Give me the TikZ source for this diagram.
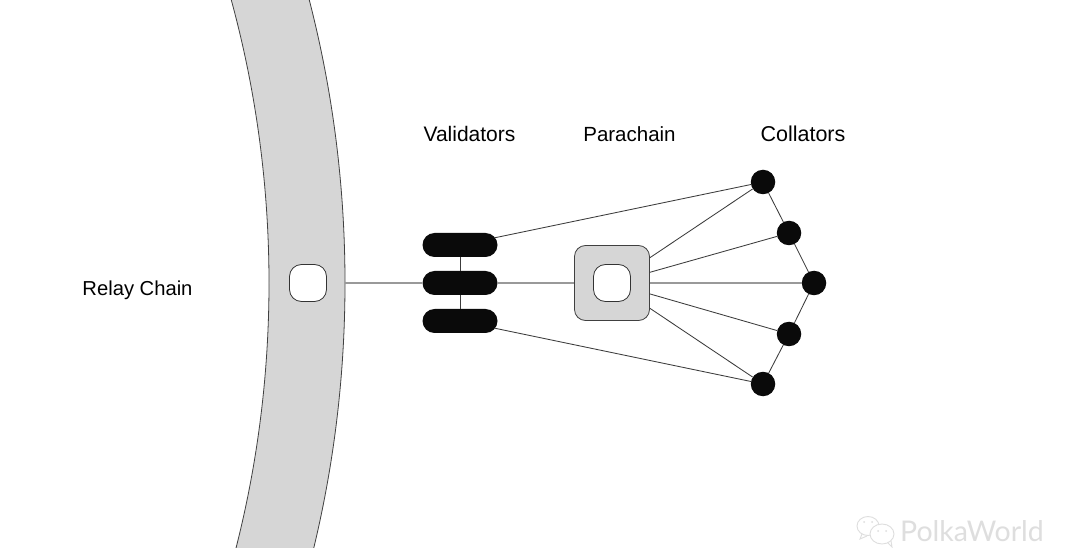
\documentclass[tikz,border=0pt]{standalone}
\usepackage{fontspec}
\setmainfont{Liberation Sans}
\newfontfamily\markfont{Lato}
\definecolor{ringgray}{HTML}{D6D6D6}
\definecolor{inkblack}{HTML}{0A0A0A}
\definecolor{edgegray}{HTML}{3C3C3C}
\definecolor{markgray}{HTML}{DEDEDE}
\tikzset{
  x=1pt,y=-1pt,
  label text/.style={text=black,inner sep=0pt,anchor=base},
  pill/.style={draw=none,fill=inkblack,rectangle,rounded corners=12pt,minimum width=75pt,minimum height=24pt,inner sep=0pt},
  collator/.style={circle,fill=inkblack,draw=none,minimum size=24.5pt,inner sep=0pt},
  hole/.style={rectangle,fill=white,draw=black!80,line width=0.8pt,rounded corners=12pt,minimum size=37pt,inner sep=0pt},
  parabox/.style={rectangle,fill=ringgray,draw=black!75,line width=0.8pt,rounded corners=11pt,minimum size=75pt,inner sep=0pt},
  thin link/.style={draw=edgegray,line width=0.85pt},
  main link/.style={draw=black!40,line width=1.5pt},
  chain edge/.style={draw=black!75,line width=0.8pt},
}
\begin{document}
\begin{tikzpicture}
\useasboundingbox (0,0) rectangle (1080,548);
\begin{scope}
  \clip (0,0) rectangle (1080,548);
  \fill[white] (0,0) rectangle (1080,548);
  \filldraw[fill=ringgray,chain edge] (-785,283) circle[radius=1130];
  \filldraw[fill=white,chain edge] (-804,283) circle[radius=1073];
\end{scope}
\coordinate (ringedge) at (345,283);
\node[hole] (relayslot) at (308,283) {};
\node[pill] (v1) at (460,245) {};
\node[pill] (v2) at (460,283) {};
\node[pill] (v3) at (460,321) {};
\node[parabox] (para) at (612,283) {};
\node[hole] (paraslot) at (612,283) {};
\node[collator] (c1) at (763,182) {};
\node[collator] (c2) at (789,233) {};
\node[collator] (c3) at (814,283) {};
\node[collator] (c4) at (789,334) {};
\node[collator] (c5) at (763,384) {};
\draw[main link] (ringedge) -- (v2);
\draw[main link] (v2) -- (para);
\draw[main link] (para) -- (c3);
\draw[thin link] (v1) -- (v2);
\draw[thin link] (v2) -- (v3);
\draw[thin link,shorten <=-3pt] (v1) -- (c1);
\draw[thin link,shorten <=-3pt] (v3) -- (c5);
\draw[thin link] (para) -- (c1);
\draw[thin link] (para) -- (c2);
\draw[thin link] (para) -- (c4);
\draw[thin link] (para) -- (c5);
\draw[thin link] (c1) -- (c2);
\draw[thin link] (c2) -- (c3);
\draw[thin link] (c3) -- (c4);
\draw[thin link] (c4) -- (c5);
\node[label text,font=\fontsize{21}{24}\selectfont] (lv) at (469.5,141.5) {Validators};
\node[label text,font=\fontsize{20.5}{24}\selectfont] (lp) at (629.5,141.5) {Parachain};
\node[label text,font=\fontsize{21.5}{24}\selectfont] (lc) at (803,141.5) {Collators};
\node[label text,font=\fontsize{20.2}{24}\selectfont] (lr) at (137.5,295.5) {Relay Chain};
% watermark
\draw[markgray,line width=0.9pt,fill=white] (868,526) ellipse[x radius=11,y radius=9.5];
\draw[markgray,line width=0.9pt] (862,534) -- (860,539) -- (867,536);
\draw[markgray,line width=0.9pt,fill=white] (882,534) ellipse[x radius=12,y radius=10];
\draw[markgray,line width=0.9pt] (888,543) -- (892,547) -- (891,541);
\fill[markgray] (864,522) circle[radius=1] (872,522) circle[radius=1] (878,531) circle[radius=1] (886,531) circle[radius=1];
\node[font=\markfont\fontsize{28.5}{30}\selectfont,text=markgray,inner sep=0pt,anchor=base] (wm) at (972,541) {PolkaWorld};
\end{tikzpicture}
\end{document}
